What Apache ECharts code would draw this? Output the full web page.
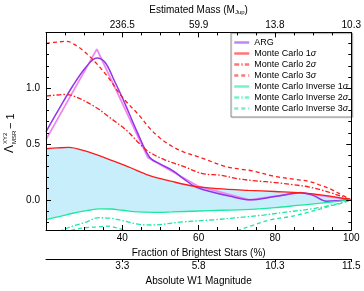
<!DOCTYPE html>
<html><head><meta charset="utf-8">
<script src="https://cdn.jsdelivr.net/npm/echarts@6/dist/echarts.min.js"></script>
<style>html,body{margin:0;padding:0;background:#fff}#c{width:364px;height:291px}</style>
</head><body><div id="c"></div>
<script>
// ---- data ----
const argRawX = [20, 33.33, 46.67, 60, 73.33, 86.67, 100];
const argRawY = [0.54, 1.35, 0.38, 0.12, 0.0, 0.065, 0.0];
const argX = [20, 23, 27, 30.5, 33.3, 35.5, 38, 40.2, 44, 47.2, 50, 53.3, 56, 59, 63, 68, 73.5, 80, 86.8, 90, 93.5, 96.5, 100];
const argY = [0.61, 0.79, 1.02, 1.19, 1.27, 1.23, 1.06, 0.9, 0.6, 0.38, 0.32, 0.26, 0.19, 0.12, 0.075, 0.034, 0.0, 0.03, 0.063, 0.04, -0.012, -0.008, 0.0];
const mc1X = [20, 23, 26, 30, 36, 42, 47, 53, 59, 65, 73, 80, 87, 93, 100];
const mc1Y = [0.458, 0.465, 0.47, 0.44, 0.37, 0.29, 0.22, 0.165, 0.12, 0.1, 0.085, 0.075, 0.063, 0.04, 0.0];
const mc2X = [20, 22, 25, 28, 33, 37, 41, 44.6, 47, 51, 56, 61, 66, 70, 75, 80, 85, 89, 92, 95, 97.5, 100];
const mc2Y = [0.93, 0.937, 0.944, 0.92, 0.83, 0.73, 0.625, 0.5, 0.43, 0.36, 0.3, 0.235, 0.22, 0.19, 0.17, 0.155, 0.135, 0.115, 0.09, 0.06, 0.03, 0.0];
const mc3X = [20, 22, 25.5, 28, 30, 33, 36, 40, 44.6, 47.2, 50, 53, 56, 60, 67, 71, 74, 80, 85, 89, 92, 95, 98, 100];
const mc3Y = [1.4, 1.41, 1.42, 1.38, 1.33, 1.23, 1.11, 0.92, 0.75, 0.64, 0.55, 0.48, 0.43, 0.385, 0.3, 0.275, 0.26, 0.21, 0.185, 0.165, 0.13, 0.09, 0.035, 0.0];
const inv1X = [20, 24, 27, 31, 34, 37, 40, 44, 48, 53, 60, 66, 72, 80, 86, 92, 96, 100];
const inv1Y = [-0.178, -0.145, -0.12, -0.095, -0.08, -0.082, -0.093, -0.108, -0.112, -0.108, -0.1, -0.093, -0.088, -0.07, -0.05, -0.03, -0.015, 0.0];
const inv2X = [20, 23, 27, 30, 34, 37, 40, 44.6, 48, 55, 64, 70, 77, 84, 90, 96, 100];
const inv2Y = [-0.34, -0.29, -0.235, -0.205, -0.16, -0.165, -0.185, -0.22, -0.225, -0.2, -0.178, -0.16, -0.136, -0.105, -0.079, -0.038, 0.0];
const inv3X = [20, 25, 30, 33.3, 36, 40, 43, 50, 60, 66, 70, 74, 78.6, 84, 88, 92, 95, 97.5, 100];
const inv3Y = [-0.38, -0.29, -0.25, -0.243, -0.235, -0.265, -0.3, -0.33, -0.33, -0.31, -0.275, -0.23, -0.18, -0.15, -0.118, -0.08, -0.05, -0.03, 0.0];
const fracTicks = [40, 60, 80, 100];
const massLabels = ['236.5', '59.9', '13.8', '10.3'];
const magLabels = ['3.3', '5.8', '10.3', '11.5'];
const yLabelVals = [0, 0.5, 1.0];
const yMinorVals = [-0.2, -0.1, 0.1, 0.2, 0.3, 0.4, 0.6, 0.7, 0.8, 0.9, 1.1, 1.2, 1.3, 1.4];
const yMajorVals = [0, 0.5, 1.0, 1.5];

const pts = (xs, ys) => xs.map((x, i) => [x, ys[i]]);
const FF = '"Liberation Sans", Arial, sans-serif';
const RED = '#ff1a1a', GREEN = '#1ee8a0', FILL = '#c9eefb';

const chart = echarts.init(document.getElementById('c'), null, {renderer: 'canvas'});
const baseX = {type: 'value', min: 20, max: 100, interval: 20, z: 10, splitLine: {show: false}};
const lineAx = {show: true, onZero: false, lineStyle: {color: '#000', width: 1}};
const yBase = {type: 'value', min: -0.27, max: 1.5, z: 10, splitLine: {show: false}};

function line(name, xs, ys, color, type, width, extra) {
  return Object.assign({name, type: 'line', data: pts(xs, ys), symbol: 'none', smooth: 0.35,
    lineStyle: {color, type, width}, itemStyle: {color}, z: 3}, extra || {});
}

chart.setOption({
  animation: false,
  grid: {left: 46, right: 11, top: 28, bottom: 53},
  xAxis: [
    Object.assign({}, baseX, {position: 'bottom', axisLine: lineAx,
      axisTick: {inside: true, length: 5, lineStyle: {color: '#000'}},
      minorTick: {show: true, splitNumber: 4, length: 3, lineStyle: {color: '#000'}},
      axisLabel: {fontSize: 10, fontFamily: FF, color: '#000', margin: 3,
        formatter: v => fracTicks.includes(v) ? String(v) : ''},
      name: 'Fraction of Brightest Stars (%)', nameLocation: 'middle', nameGap: 17,
      nameTextStyle: {fontSize: 10, fontFamily: FF, color: '#000'}}),
    Object.assign({}, baseX, {position: 'top', axisLine: lineAx,
      axisTick: {inside: true, length: 5, lineStyle: {color: '#000'}},
      minorTick: {show: true, splitNumber: 4, length: 3, lineStyle: {color: '#000'}},
      axisLabel: {fontSize: 10, fontFamily: FF, color: '#000', margin: 2,
        formatter: v => { const i = fracTicks.indexOf(v); return i >= 0 ? massLabels[i] : ''; }},
      name: '{a|Estimated Mass (M}{s|Jup}{a|)}', nameLocation: 'middle', nameGap: 16,
      nameTextStyle: {fontSize: 10, fontFamily: FF, color: '#000',
        rich: {a: {fontSize: 10, fontFamily: FF, color: '#000', lineHeight: 12},
               s: {fontSize: 6, fontFamily: FF, color: '#000', padding: [5, 0, 0, 0]}}}}),
    Object.assign({}, baseX, {position: 'bottom', offset: 29, axisLine: lineAx,
      axisTick: {inside: false, length: 3, customValues: fracTicks, lineStyle: {color: '#000'}},
      axisLabel: {fontSize: 10, fontFamily: FF, color: '#000', margin: 2, customValues: fracTicks,
        formatter: v => { const i = fracTicks.indexOf(v); return i >= 0 ? magLabels[i] : ''; }},
      name: 'Absolute W1 Magnitude', nameLocation: 'middle', nameGap: 17,
      nameTextStyle: {fontSize: 10, fontFamily: FF, color: '#000'}})
  ],
  yAxis: [
    Object.assign({}, yBase, {position: 'left', axisLine: lineAx,
      axisTick: {inside: true, length: 5, customValues: yMajorVals, lineStyle: {color: '#000'}},
      axisLabel: {fontSize: 10, fontFamily: FF, color: '#000', margin: 6, customValues: yLabelVals,
        formatter: v => v.toFixed(1)}}),
    Object.assign({}, yBase, {position: 'left', axisLine: {show: false},
      axisTick: {inside: true, length: 3, customValues: yMinorVals, lineStyle: {color: '#000'}},
      axisLabel: {show: false}}),
    Object.assign({}, yBase, {position: 'right', axisLine: lineAx,
      axisTick: {inside: true, length: 5, customValues: yMajorVals, lineStyle: {color: '#000'}},
      axisLabel: {show: false}}),
    Object.assign({}, yBase, {position: 'right', axisLine: {show: false},
      axisTick: {inside: true, length: 3, customValues: yMinorVals, lineStyle: {color: '#000'}},
      axisLabel: {show: false}})
  ],
  legend: {
    orient: 'vertical', left: 231, top: 33, padding: [5, 4, 4, 2],
    itemWidth: 15, itemHeight: 9, itemGap: 2,
    backgroundColor: '#fff', borderColor: '#888', borderWidth: 1,
    shadowColor: 'rgba(0,0,0,0.08)', shadowOffsetX: 1, shadowOffsetY: 1, shadowBlur: 0,
    lineStyle: {width: 2.5, opacity: 0.6},
    itemStyle: {opacity: 0, borderWidth: 0},
    data: ['ARG', 'Monte Carlo 1σ', 'Monte Carlo 2σ', 'Monte Carlo 3σ',
           'Monte Carlo Inverse 1σ', 'Monte Carlo Inverse 2σ', 'Monte Carlo Inverse 3σ'],
    formatter: name => { const m = name.match(/^(.*\d)σ$/); return m ? '{n|' + m[1] + '}{s|σ}' : '{n|' + name + '}'; },
    textStyle: {fontSize: 9, fontFamily: FF, color: '#000',
      rich: {n: {fontSize: 9, fontFamily: FF, color: '#000'}, s: {fontSize: 9, fontFamily: FF, fontStyle: 'italic', color: '#000'}}}
  },
  graphic: [{
    type: 'group', x: 16, y: 153, rotation: Math.PI / 2,
    children: [
      {type: 'text', x: 0, y: 0, style: {text: 'Λ', font: '12px ' + FF, fill: '#000', verticalAlign: 'bottom'}},
      {type: 'text', x: 9, y: -8, style: {text: 'XY2', font: '6px ' + FF, fill: '#000', verticalAlign: 'bottom'}},
      {type: 'text', x: 9, y: 1, style: {text: 'MSR', font: '6px ' + FF, fill: '#000', verticalAlign: 'bottom'}},
      {type: 'text', x: 21, y: 0, style: {text: ' − 1', font: '11px ' + FF, fill: '#000', verticalAlign: 'bottom'}}
    ]
  }],
  series: [
    {name: 'band', type: 'line', data: pts(mc1X, mc1Y), symbol: 'none', smooth: 0.35, silent: true,
      lineStyle: {width: 0}, areaStyle: {color: FILL, opacity: 1, origin: 'start'}, z: 1},
    {name: 'bandLow', type: 'line', data: pts(inv1X, inv1Y), symbol: 'none', smooth: 0.35, silent: true,
      lineStyle: {width: 0}, areaStyle: {color: '#ffffff', opacity: 1, origin: 'start'}, z: 1},
    line('ARG raw', argRawX, argRawY, '#ee88ee', 'solid', 1.8, {smooth: false}),
    line('ARG', argX, argY, '#9235ea', 'solid', 1.5),
    line('Monte Carlo 1σ', mc1X, mc1Y, RED, 'solid', 1.3),
    line('Monte Carlo 2σ', mc2X, mc2Y, RED, [5, 2, 1.5, 2], 1.3),
    line('Monte Carlo 3σ', mc3X, mc3Y, RED, [4, 3], 1.3),
    line('Monte Carlo Inverse 1σ', inv1X, inv1Y, GREEN, 'solid', 1.3),
    line('Monte Carlo Inverse 2σ', inv2X, inv2Y, GREEN, [5, 2, 1.5, 2], 1.3),
    line('Monte Carlo Inverse 3σ', inv3X, inv3Y, GREEN, [4, 3], 1.3)
  ]
});
</script></body></html>
